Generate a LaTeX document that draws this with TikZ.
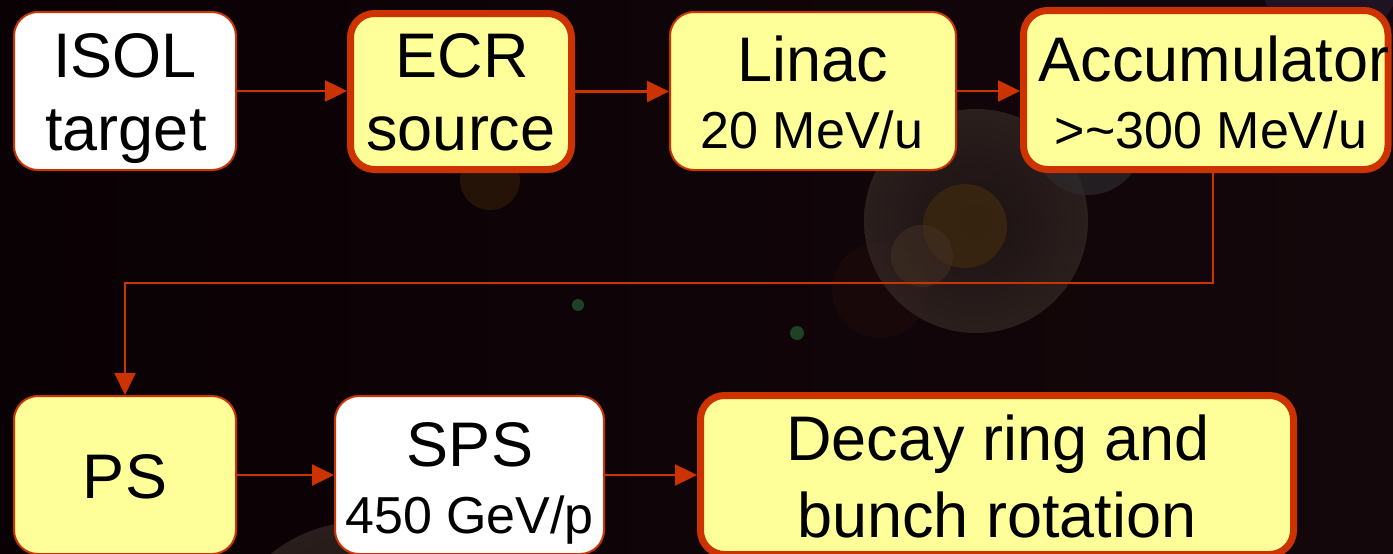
\documentclass[tikz,border=0pt]{standalone}
\usepackage{fontspec}
\setmainfont{Liberation Sans}
\usetikzlibrary{arrows.meta}
\definecolor{edge}{RGB}{204,51,0}
\definecolor{note}{RGB}{255,255,153}
\definecolor{bgleft}{RGB}{10,1,4}
\definecolor{bgright}{RGB}{20,7,11}
\definecolor{haze}{RGB}{32,22,21}
\definecolor{hazerim}{RGB}{52,40,37}
\definecolor{amber}{RGB}{60,39,15}
\definecolor{amberpale}{RGB}{68,50,36}
\definecolor{dusk}{RGB}{24,8,9}
\definecolor{slate}{RGB}{44,44,46}
\definecolor{glow}{RGB}{36,19,6}
\definecolor{moss}{RGB}{30,66,36}
\definecolor{plum}{RGB}{34,21,40}
\newcommand\bigsize{\fontsize{63}{73}\selectfont}
\newcommand\smallsize{\fontsize{52}{60}\selectfont}
\tikzset{
  box/.style={rectangle, rounded corners=24pt, draw=edge, fill=note,
    line width=2pt, inner sep=0pt},
  heavybox/.style={box, line width=7pt},
  bigt/.style={anchor=base, inner sep=0pt, font=\bigsize, text=black},
  smallt/.style={anchor=base, inner sep=0pt, font=\smallsize, text=black},
  conn/.style={draw=edge, line width=2.4pt,
    -{Triangle[length=22pt, width=21pt]}},
}
\begin{document}
\begin{tikzpicture}[x=1pt, y=-1pt]
\useasboundingbox (0,0) rectangle (1393,554);
% dark backdrop
\shade[left color=bgleft, right color=bgright] (0,0) rectangle (1393,554);
% soft light spots
\fill[plum, opacity=0.8] (1330,-25) circle (70);
\fill[glow] (490,180) circle (30);
\fill[dusk] (880,290) circle (48);
\shade[inner color=haze, outer color=hazerim, opacity=0.75] (976,221) circle (112);
\fill[slate, opacity=0.65] (1088,140) circle (55);
\fill[amber, opacity=0.8] (965,226) circle (42);
\fill[amberpale, opacity=0.5] (922,256) circle (31);
\fill[moss] (578,305) circle (6);
\fill[moss] (797,333) circle (7);
\shade[inner color=haze, outer color=hazerim, opacity=0.75] (360,662) circle (140);

% stages
\node[box, fill=white, minimum width=222pt, minimum height=158pt] (isol) at (125,91) {};
\node[heavybox, minimum width=221pt, minimum height=156pt] (ecr) at (461,91.5) {};
\node[box, minimum width=286pt, minimum height=158pt] (linac) at (813,91) {};
\node[heavybox, minimum width=364.5pt, minimum height=159pt] (acc) at (1205.75,90) {};
\node[box, minimum width=222pt, minimum height=158pt] (ps) at (125,475) {};
\node[box, fill=white, minimum width=269pt, minimum height=158pt] (sps) at (469.5,475) {};
\node[heavybox, minimum width=593pt, minimum height=159pt] (decay) at (997,475) {};

% labels
\node[bigt] (isolA) at (125,77) {ISOL};
\node[bigt] (isolB) at (126,150) {target};
\node[bigt] (ecrA) at (462,77) {ECR};
\node[bigt] (ecrB) at (461,150) {source};
\node[bigt] (linacA) at (813,81.7) {Linac};
\node[smallt] (linacB) at (812,148.3) {20 MeV/u};
\node[bigt] (accA) at (1214,81.7) {Accumulator};
\node[smallt] (accB) at (1211,148.3) {>\textasciitilde300 MeV/u};
\node[bigt] (psA) at (125,498.3) {PS};
\node[bigt] (spsA) at (470,466.7) {SPS};
\node[smallt] (spsB) at (469.5,533.3) {450 GeV/p};
\node[bigt] (decayA) at (998,460) {Decay ring and};
\node[bigt] (decayB) at (997,537) {bunch rotation};

% beam path
\draw[conn] (isol.east) -- (isol.east -| ecr.west);
\draw[conn] (ecr.east) -- (ecr.east -| linac.west);
\draw[conn] (linac.east) -- (linac.east -| acc.west);
\coordinate (turnA) at (1213,283);
\coordinate (turnB) at (125,283);
\draw[conn, line width=2pt] (acc.south -| turnA) -- (turnA) -- (turnB) -- (ps.north);
\draw[conn] (ps.east) -- (sps.west);
\draw[conn] (sps.east) -- (decay.west);
\end{tikzpicture}
\end{document}
